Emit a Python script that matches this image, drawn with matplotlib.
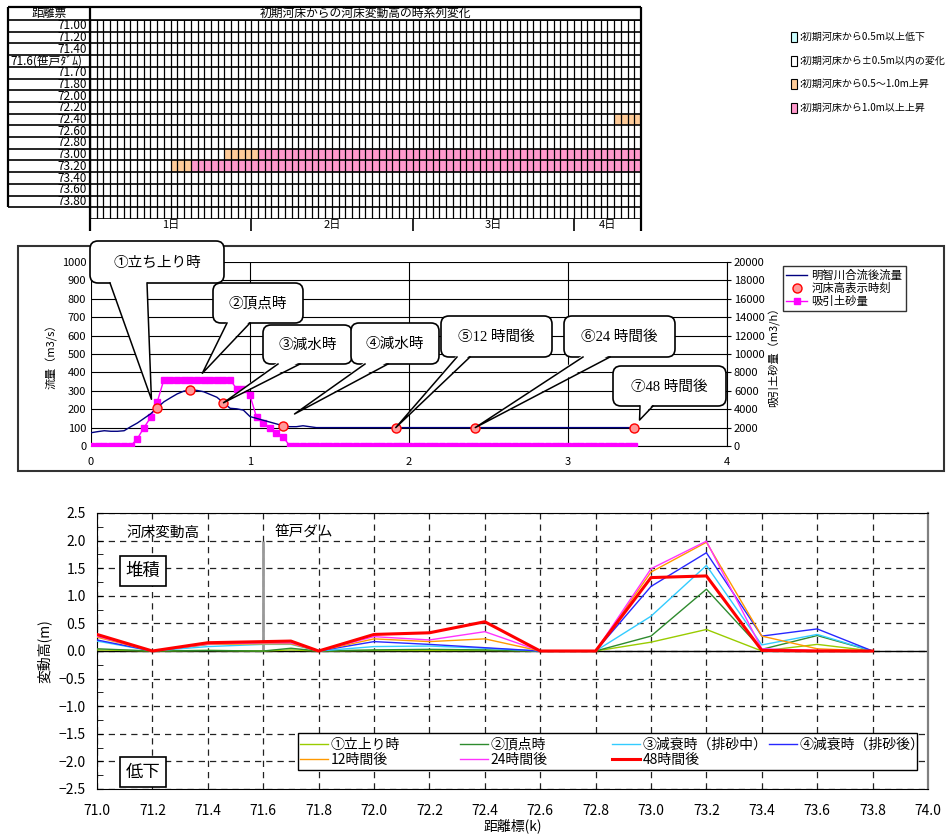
import numpy as np
import matplotlib
matplotlib.use("Agg")
import matplotlib.pyplot as plt
from matplotlib.colors import ListedColormap
from matplotlib.patches import Rectangle, FancyBboxPatch, Polygon
from matplotlib.legend import Legend
from matplotlib.ticker import MultipleLocator

plt.rcParams["font.family"] = ["Noto Sans CJK JP", "DejaVu Sans"]

# ---------------- bed-change timeline table ----------------
table_rows = ["71.00", "71.20", "71.40", "71.6(笹戸ﾀﾞﾑ)", "71.70", "71.80", "72.00",
              "72.20", "72.40", "72.60", "72.80", "73.00", "73.20", "73.40",
              "73.60", "73.80"]
table_hours = 82
day_labels = ["1日", "2日", "3日", "4日"]
day_label_hours = [12, 36, 60, 77]
rise_rows = ["72.40", "73.00", "73.20"]
rise_05_from = [78, 20, 12]       # first hour with a 0.5-1.0 m rise
rise_10_from = [None, 25, 15]     # first hour with a rise over 1.0 m
key_labels = [":初期河床から0.5m以上低下", ":初期河床から±0.5m以内の変化",
              ":初期河床から0.5～1.0m上昇", ":初期河床から1.0m以上上昇"]
key_colors = ["#ccffff", "#ffffff", "#ffcc99", "#ff99cc"]

# ---------------- hydrograph ----------------
flow_hours = [0, 1, 2, 3, 4, 5, 6, 7, 8, 9, 10, 11, 12, 13, 14, 15, 16, 17, 18,
              19, 20, 21, 22, 23, 24, 25, 26, 27, 28, 29, 30, 31, 32, 33, 34, 82]
flow_m3s = [72, 78, 83, 80, 80, 83, 105, 125, 150, 175, 208, 240, 262, 283, 298,
            305, 302, 295, 280, 265, 235, 205, 202, 195, 160, 150, 140, 130, 120,
            110, 105, 105, 110, 105, 100, 100]
sediment_m3h = [0, 0, 0, 0, 0, 0, 0, 800, 2000, 3100, 4800, 7200, 7200, 7200, 7200,
                7200, 7200, 7200, 7200, 7200, 7200, 7200, 6200, 6200, 5500, 3100,
                2500, 2000, 1450, 1000, 0, 0, 0, 0, 0, 0, 0, 0, 0, 0,
                0, 0, 0, 0, 0, 0, 0, 0, 0, 0, 0, 0, 0, 0, 0, 0, 0, 0, 0, 0,
                0, 0, 0, 0, 0, 0, 0, 0, 0, 0, 0, 0, 0, 0, 0, 0, 0, 0, 0, 0,
                0, 0, 0]
stage_hours = [10, 15, 20, 29, 46, 58, 82]
stage_names = ["①立ち上り時", "②頂点時", "③減水時", "④減水時",
               "⑤12 時間後", "⑥24 時間後", "⑦48 時間後"]

# ---------------- longitudinal bed change ----------------
stations = [71.0, 71.2, 71.4, 71.6, 71.7, 71.8, 72.0, 72.2, 72.4, 72.6, 72.8,
            73.0, 73.2, 73.4, 73.6, 73.8]
dz_rise = [0.02, 0.0, 0.01, 0.0, 0.02, 0.0, 0.01, 0.01, 0.01, 0.0, 0.0, 0.16, 0.39, 0.0, 0.12, 0.0]
dz_peak = [0.04, 0.0, 0.01, 0.0, 0.05, 0.0, 0.02, 0.03, 0.02, 0.0, 0.0, 0.27, 1.12, 0.03, 0.28, 0.0]
dz_fall_flush = [0.18, 0.0, 0.08, 0.12, 0.12, 0.0, 0.08, 0.09, 0.05, 0.0, 0.0, 0.63, 1.55, 0.11, 0.30, 0.0]
dz_fall_after = [0.20, 0.0, 0.12, 0.15, 0.14, 0.0, 0.17, 0.12, 0.06, 0.0, 0.0, 1.17, 1.78, 0.27, 0.40, 0.0]
dz_12h = [0.25, 0.0, 0.12, 0.13, 0.13, 0.0, 0.22, 0.17, 0.22, 0.0, 0.0, 1.43, 1.97, 0.27, 0.04, 0.0]
dz_24h = [0.27, 0.0, 0.13, 0.15, 0.15, 0.0, 0.26, 0.20, 0.35, 0.0, 0.0, 1.49, 1.99, 0.04, 0.01, 0.0]
dz_48h = [0.30, 0.0, 0.15, 0.17, 0.18, 0.0, 0.30, 0.33, 0.53, 0.0, 0.0, 1.33, 1.36, 0.01, 0.0, 0.0]
series_names = ["①立上り時", "②頂点時", "③減衰時（排砂中）", "④減衰時（排砂後）",
                "12時間後", "24時間後", "48時間後"]
series_colors = ["#99cc00", "#2e8b2e", "#33ccff", "#2828ff", "#ff9900", "#ff33ff", "#ff0000"]
series_widths = [1.0, 1.0, 1.0, 1.0, 1.0, 1.0, 2.2]

W, H = 948, 834
fig = plt.figure(figsize=(W / 100, H / 100), dpi=100)


def rect(x0, y0, x1, y1):
    """Figure-fraction box from pixel edges counted from the top-left corner."""
    return [x0 / W, 1 - y1 / H, (x1 - x0) / W, (y1 - y0) / H]


# overlay in pixel units (origin top-left) for frames, keys and callouts
ov = fig.add_axes([0, 0, 1, 1], zorder=10)
ov.set_xlim(0, W)
ov.set_ylim(H, 0)
ov.axis("off")

# ================= table =================
n_rows = len(table_rows)
tg = fig.add_axes(rect(90, 20, 641, 219))
tg.set_xlim(0, table_hours)
tg.set_ylim(n_rows + 1, 0)
tg.axis("off")

grid = np.ones((n_rows + 1, table_hours))
for name, h05, h10 in zip(rise_rows, rise_05_from, rise_10_from):
    r = table_rows.index(name)
    grid[r, h05:] = 2
    if h10 is not None:
        grid[r, h10:] = 3
tg.pcolormesh(np.arange(table_hours + 1), np.arange(n_rows + 2), grid,
              cmap=ListedColormap(key_colors), vmin=-0.5, vmax=3.5)
tg.vlines(np.arange(table_hours + 1), 0, n_rows + 1, color="k", lw=0.9)
tg.hlines(np.arange(n_rows + 2), 0, table_hours, color="k", lw=1.2)

col_px = 551 / table_hours
row_px = 199 / (n_rows + 1)
x_left = -(90 - 8) / col_px
y_head = -(20 - 7) / row_px
y_day = n_rows + 1 + 12 / row_px
kw = dict(color="k", clip_on=False)
tg.hlines(y_head, x_left, table_hours, lw=1.6, **kw)
tg.hlines(np.arange(0, n_rows + 1), x_left, 0, lw=1.2, **kw)
tg.hlines(0, 0, table_hours, lw=1.2, **kw)
tg.vlines(x_left, y_head, n_rows, lw=1.6, **kw)
tg.vlines(0, y_head, y_day, lw=1.6, **kw)
tg.vlines(table_hours, y_head, y_day, lw=1.6, **kw)
tg.vlines([24, 48, 72], n_rows + 1, y_day, lw=1.2, **kw)
tg.text(x_left / 2, y_head / 2, "距離票", ha="center", va="center", fontsize=8.5, clip_on=False)
tg.text(41, y_head / 2, "初期河床からの河床変動高の時系列変化", ha="center", va="center",
        fontsize=8.5, clip_on=False)
for i, lab in enumerate(table_rows):
    if "(" in lab:
        tg.text(x_left + 0.3, i + 0.5, lab, ha="left", va="center", fontsize=8.5, clip_on=False)
    else:
        tg.text(-0.4, i + 0.5, lab, ha="right", va="center", fontsize=8.5, clip_on=False)
for lab, h in zip(day_labels, day_label_hours):
    tg.text(h, (n_rows + 1 + y_day) / 2, lab, ha="center", va="center", fontsize=8, clip_on=False)

# colour key
for i, (lab, c) in enumerate(zip(key_labels, key_colors)):
    yc = 37 + i * 23.5
    ov.add_patch(Rectangle((791, yc - 5), 6, 10, fc=c, ec="k", lw=0.8))
    ov.text(799, yc, lab, ha="left", va="center", fontsize=7.2)

# ================= hydrograph =================
ov.add_patch(Rectangle((18, 246), 926, 225, fill=False, ec="#333333", lw=1.5))
ax2 = fig.add_axes(rect(91, 262, 727, 446))
ax2.set_xlim(0, 4)
ax2.set_ylim(0, 1000)
ax2.set_yticks(range(0, 1001, 100))
ax2.set_xticks(range(5))
ax2.grid(True, color="k", lw=0.8)
ax2.set_axisbelow(True)
for s in ["left", "top", "right"]:
    ax2.spines[s].set_visible(False)
ax2.spines["bottom"].set_color("k")
ax2.tick_params(axis="both", length=0, labelsize=8)
ax2.tick_params(axis="x", pad=8)
ax2.set_ylabel("流量（m3/s）", fontsize=8)
ax2.yaxis.set_label_coords(-0.053, 0.5)

axr = ax2.twinx()
axr.set_ylim(0, 20000)
axr.set_yticks(range(0, 20001, 2000))
for s in ["left", "top", "bottom"]:
    axr.spines[s].set_visible(False)
axr.spines["right"].set_color("k")
axr.tick_params(axis="y", length=3, labelsize=8, pad=2)
axr.set_ylabel("吸引土砂量（m3/h）", fontsize=8)
axr.yaxis.set_label_coords(1.064, 0.5)

sed_days = np.arange(len(sediment_m3h)) / 24
l_sed, = axr.plot(sed_days, sediment_m3h, color="#ff00ff", lw=1, marker="s", ms=4.5,
                  mec="#ff00ff", mfc="#ff00ff", label="吸引土砂量", zorder=3)
flow_days = np.array(flow_hours) / 24
l_flow, = axr.plot(flow_days, np.array(flow_m3s) * 20, color="#000080", lw=1,
                   label="明智川合流後流量", zorder=4)
stage_days = np.array(stage_hours) / 24
stage_flow = np.interp(stage_hours, flow_hours, flow_m3s)
l_stage, = axr.plot(stage_days, stage_flow * 20, ls="none", marker="o", ms=6.5,
                    mfc="#ff9999", mec="#ff0000", mew=1, label="河床高表示時刻", zorder=5)
fig.legend([l_flow, l_stage, l_sed], [l_flow.get_label(), l_stage.get_label(), l_sed.get_label()],
           loc="upper left", bbox_to_anchor=(783 / W, 1 - 266 / H), frameon=True,
           fancybox=False, edgecolor="k", fontsize=8.2, handlelength=1.8, borderpad=0.3,
           labelspacing=0.2, handletextpad=0.4, borderaxespad=0)

# speech-bubble callouts: box in pixels, wedge base on the box bottom, tip in data units
callout_boxes = [(90, 241, 224, 283), (213, 283, 303, 323), (263, 325, 352, 364),
                 (351, 323, 439, 364), (441, 316, 552, 357), (564, 316, 675, 357),
                 (613, 366, 726, 406)]
callout_bases = [(110, 147), (227, 250), (278, 300), (365, 388), (457, 470),
                 (583, 610), (640, 653)]
callout_tips = [(0.38, 254), (0.70, 395), (stage_days[2], stage_flow[2]), (1.28, 174),
                (stage_days[4], stage_flow[4]), (stage_days[5], stage_flow[5]), (3.45, 141)]

for name, (x0, y0, x1, y1), (b0, b1), tip in zip(stage_names, callout_boxes,
                                                 callout_bases, callout_tips):
    tx, ty = ov.transData.inverted().transform(ax2.transData.transform(tip))
    ov.add_patch(FancyBboxPatch((x0, y0), x1 - x0, y1 - y0,
                                boxstyle="round,pad=0,rounding_size=8",
                                fc="white", ec="k", lw=1.2, zorder=2))
    ov.add_patch(Polygon([(b0, y1 - 2), (tx, ty), (b1, y1 - 2)], closed=True,
                         fc="white", ec="none", zorder=3))
    ov.plot([b0, tx, b1], [y1, ty, y1], color="k", lw=1.1, zorder=4)
    ov.text((x0 + x1) / 2, (y0 + y1) / 2 + 1, name, ha="center", va="center",
            fontsize=10.5, family=["Liberation Serif", "Noto Sans CJK JP"], zorder=5)

# ================= longitudinal bed change =================
ax3 = fig.add_axes(rect(97, 513, 928, 789))
ax3.set_xlim(71, 74)
ax3.set_ylim(-2.5, 2.5)
xt = np.round(np.arange(71, 74.001, 0.2), 1)
ax3.set_xticks(xt)
ax3.set_xticklabels([f"{v:.1f}" for v in xt])
yt = np.round(np.arange(-2.5, 2.501, 0.5), 1)
ax3.set_yticks(yt)
ax3.set_yticklabels([f"{v:.1f}".replace("-", "−") for v in yt])
ax3.yaxis.set_minor_locator(MultipleLocator(0.25))
ax3.grid(True, which="major", ls=(0, (5, 4)), color="#222222", lw=0.9)
ax3.set_axisbelow(True)
ax3.tick_params(axis="x", length=0, pad=11, labelsize=10)
ax3.tick_params(axis="y", which="major", direction="in", length=4, pad=8, labelsize=10)
ax3.tick_params(axis="y", which="minor", direction="in", length=4)
for s in ["left", "bottom", "top"]:
    ax3.spines[s].set_color("k")
ax3.spines["right"].set_color("#808080")
ax3.spines["right"].set_linewidth(1.6)
ax3.axhline(0, color="k", lw=1, zorder=1.5)
ax3.vlines(71.6, 0, 2.0, color="#999999", lw=2, zorder=1.6)

series = [dz_rise, dz_peak, dz_fall_flush, dz_fall_after, dz_12h, dz_24h, dz_48h]
lines = []
for vals, name, c, w in zip(series, series_names, series_colors, series_widths):
    ln, = ax3.plot(stations, vals, color=c, lw=w, label=name, zorder=3)
    lines.append(ln)

ax3.set_ylabel("変動高(m)", fontsize=10)
ax3.yaxis.set_label_coords(-0.055, 0.5)
ax3.set_xlabel("距離標(k)", fontsize=10)
ax3.xaxis.set_label_coords(0.5, -0.105)

ax3.text(71.24, 2.14, "河床変動高", ha="center", va="center", fontsize=10.5)
ax3.text(71.745, 2.17, "笹戸ダム", ha="center", va="center", fontsize=10.5)
box_kw = dict(boxstyle="square,pad=0.35", fc="white", ec="k", lw=1.2)
ax3.text(71.166, 1.45, "堆積", ha="center", va="center", fontsize=12.5, bbox=box_kw, zorder=4)
ax3.text(71.166, -2.19, "低下", ha="center", va="center", fontsize=12.5, bbox=box_kw, zorder=4)

# legend: one frame, four equal-width columns (row 1: stages ①-④, row 2: 12/24/48 h)
ax3.add_patch(Rectangle((0.2419, 0.0688), 0.745, 0.134, transform=ax3.transAxes,
                        fc="white", ec="k", lw=1.0, zorder=4))
legend_columns = [[0, 4], [1, 5], [2, 6], [3]]
column_left = [0.2443, 0.4368, 0.6197, 0.8087]
for idx, x in zip(legend_columns, column_left):
    leg = Legend(ax3, [lines[i] for i in idx], [series_names[i] for i in idx],
                 loc="upper left", bbox_to_anchor=(x, 0.186), bbox_transform=ax3.transAxes,
                 frameon=False, fontsize=10, handlelength=2.0, handletextpad=0.2,
                 labelspacing=0.1, borderpad=0, borderaxespad=0)
    leg.set_zorder(5)
    ax3.add_artist(leg)

fig.savefig("out.png", dpi=100)
